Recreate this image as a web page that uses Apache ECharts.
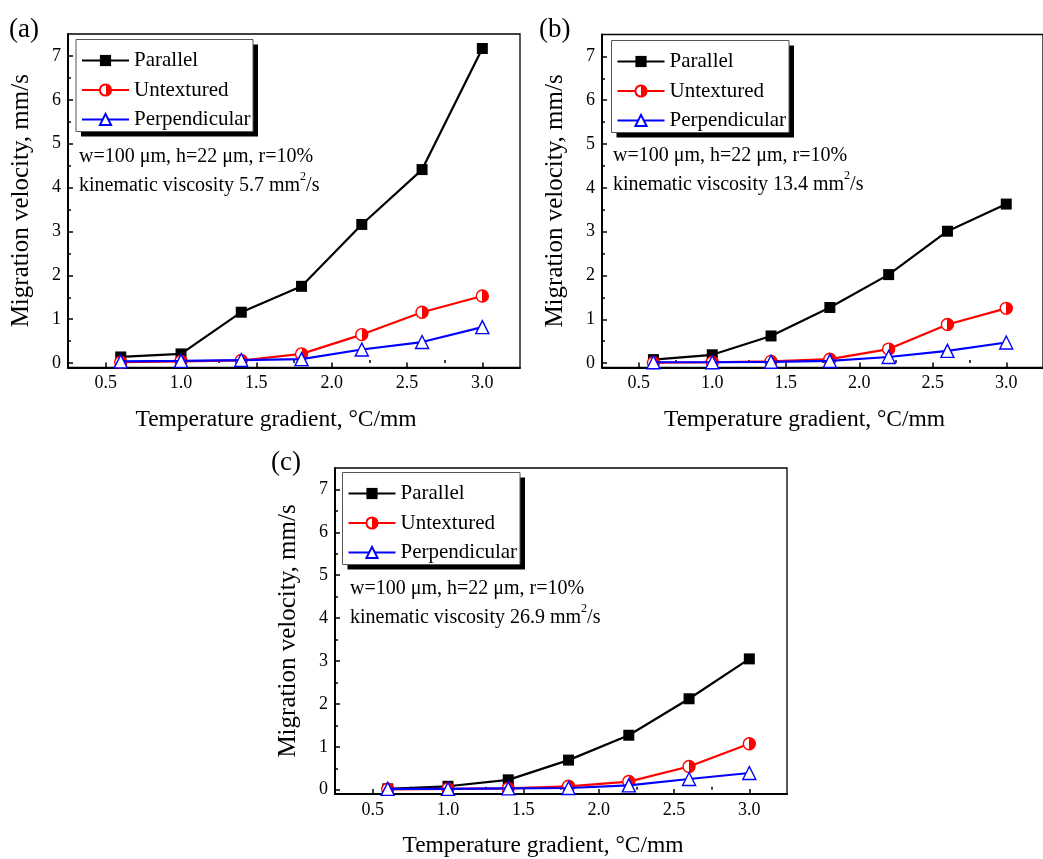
<!DOCTYPE html>
<html><head><meta charset="utf-8">
<script src="https://cdn.jsdelivr.net/npm/echarts@6/dist/echarts.min.js"></script>
<style>html,body{margin:0;padding:0;background:#fff}#c{width:1043px;height:859px}</style>
</head><body><div id="c"></div>
<script>
// ---- data ----
const xValues = [0.6, 1.0, 1.4, 1.8, 2.2, 2.6, 3.0];
const seriesNames = ['Parallel', 'Untextured', 'Perpendicular'];
const panelLabels = ['(a)', '(b)', '(c)'];
const viscosities = ['5.7', '13.4', '26.9'];
const paramText = 'w=100 μm, h=22 μm, r=10%';

const parallelA = [0.14, 0.21, 1.16, 1.75, 3.16, 4.41, 7.17];
const untexturedA = [0.02, 0.04, 0.06, 0.21, 0.65, 1.16, 1.53];
const perpendicularA = [0.04, 0.05, 0.07, 0.09, 0.31, 0.48, 0.82];

const parallelB = [0.08, 0.19, 0.62, 1.27, 2.02, 3.01, 3.63];
const untexturedB = [0.01, 0.02, 0.04, 0.09, 0.32, 0.88, 1.25];
const perpendicularB = [0.02, 0.02, 0.03, 0.05, 0.14, 0.28, 0.47];

const parallelC = [0.02, 0.08, 0.23, 0.69, 1.27, 2.12, 3.05];
const untexturedC = [0.01, 0.02, 0.03, 0.08, 0.19, 0.54, 1.07];
const perpendicularC = [0.02, 0.02, 0.03, 0.04, 0.10, 0.25, 0.39];

const xTicks = [0.5, 1.0, 1.5, 2.0, 2.5, 3.0];
const xMinorTicks = [0.75, 1.25, 1.75, 2.25, 2.75];
const yTicks = [0, 1, 2, 3, 4, 5, 6, 7];
const yMinorTicks = [0.5, 1.5, 2.5, 3.5, 4.5, 5.5, 6.5];

const xName = 'Temperature gradient, °C/mm';
const yName = 'Migration velocity, mm/s';

// ---- layout / style ----
const FONT = 'Liberation Serif';
const panels = [
  { grid: { left: 68, top: 34, width: 452, height: 333.5 }, box: { x: 76, y: 39.5, w: 177, h: 92 }, label: { left: 9, top: 16 }, note: { left: 79, top: 142 },
    data: [parallelA, untexturedA, perpendicularA] },
  { grid: { left: 602, top: 34.5, width: 452, height: 333 }, box: { x: 611.5, y: 40.5, w: 177.5, h: 92 }, label: { left: 539, top: 16 }, note: { left: 613, top: 141 },
    data: [parallelB, untexturedB, perpendicularB] },
  { grid: { left: 335, top: 468, width: 452, height: 333 }, box: { x: 342.5, y: 472.5, w: 177.5, h: 92 }, label: { left: 271, top: 449 }, note: { left: 350, top: 574 },
    data: [parallelC, untexturedC, perpendicularC] }
];

const halfFill = { type: 'linear', x: 0, y: 0, x2: 1, y2: 0,
  colorStops: [{ offset: 0, color: '#fff' }, { offset: 0.5, color: '#fff' }, { offset: 0.5, color: '#ff0000' }, { offset: 1, color: '#ff0000' }] };
const seriesStyles = [
  { symbol: 'rect', symbolSize: 11, itemStyle: { color: '#000' }, lineStyle: { color: '#000', width: 2.2 } },
  { symbol: 'circle', symbolSize: 12, itemStyle: { color: halfFill, borderColor: '#ff0000', borderWidth: 1.4 }, lineStyle: { color: '#ff0000', width: 2.2 } },
  { symbol: 'triangle', symbolSize: 13, itemStyle: { color: '#fff', borderColor: '#0000ff', borderWidth: 1.4 }, lineStyle: { color: '#0000ff', width: 2.2 } }
];

const grids = [], xAxes = [], yAxes = [], series = [], legends = [], titles = [], graphics = [];
panels.forEach((p, i) => {
  grids.push(Object.assign({ show: true, borderColor: '#000', borderWidth: 1.3, backgroundColor: 'transparent' }, p.grid));
  xAxes.push({
    type: 'value', gridIndex: i, min: 0.25, max: 3.25, position: 'bottom',
    name: xName, nameLocation: 'middle', nameGap: 40,
    nameTextStyle: { fontFamily: FONT, fontSize: 23.5, color: '#000', padding: [0, 36, 0, 0] },
    axisLine: { show: true, onZero: false, lineStyle: { color: '#000', width: 2 } },
    axisTick: { show: true, inside: true, length: 5, customValues: xTicks, lineStyle: { color: '#000', width: 1.5 } },
    axisLabel: { show: true, customValues: xTicks, margin: 7, fontFamily: FONT, fontSize: 18, color: '#000', formatter: v => v.toFixed(1) },
    splitLine: { show: false }
  });
  xAxes.push({
    type: 'value', gridIndex: i, min: 0.25, max: 3.25, position: 'bottom',
    axisLine: { show: false },
    axisTick: { show: true, inside: true, length: 3, customValues: xMinorTicks, lineStyle: { color: '#000', width: 1.5 } },
    axisLabel: { show: false }, splitLine: { show: false }
  });
  yAxes.push({
    type: 'value', gridIndex: i, min: -0.1, max: 7.5, position: 'left',
    name: yName, nameLocation: 'middle', nameGap: 34,
    nameTextStyle: { fontFamily: FONT, fontSize: 25, color: '#000' },
    axisLine: { show: true, onZero: false, lineStyle: { color: '#000', width: 2 } },
    axisTick: { show: true, inside: true, length: 5, customValues: yTicks, lineStyle: { color: '#000', width: 1.5 } },
    axisLabel: { show: true, customValues: yTicks, margin: 7, fontFamily: FONT, fontSize: 18, color: '#000', formatter: v => String(v) },
    splitLine: { show: false }
  });
  yAxes.push({
    type: 'value', gridIndex: i, min: -0.1, max: 7.5, position: 'left',
    axisLine: { show: false },
    axisTick: { show: true, inside: true, length: 3, customValues: yMinorTicks, lineStyle: { color: '#000', width: 1.5 } },
    axisLabel: { show: false }, splitLine: { show: false }
  });
  seriesNames.forEach((name, k) => {
    const st = seriesStyles[k];
    series.push({
      type: 'line', name: name, xAxisIndex: 2 * i, yAxisIndex: 2 * i,
      data: xValues.map((x, j) => [x, p.data[k][j]]),
      symbol: st.symbol, symbolSize: st.symbolSize, showSymbol: true,
      itemStyle: st.itemStyle, lineStyle: st.lineStyle,
      emphasis: { disabled: true }, animation: false, z: 3 + k
    });
  });
  // legend frame: solid black drop shadow + white box with thin border
  graphics.push({ type: 'rect', z: 10, silent: true,
    shape: { x: p.box.x + 5, y: p.box.y + 5, width: p.box.w, height: p.box.h },
    style: { fill: '#000' } });
  graphics.push({ type: 'rect', z: 11, silent: true,
    shape: { x: p.box.x, y: p.box.y, width: p.box.w, height: p.box.h },
    style: { fill: '#fff', stroke: '#555', lineWidth: 1 } });
  legends.push({
    orient: 'vertical', left: p.box.x, top: p.box.y, z: 20,
    data: seriesNames, itemWidth: 47, itemHeight: 14, itemGap: 8.5,
    padding: [10.5, 2, 2, 5], backgroundColor: 'transparent', borderWidth: 0,
    textStyle: { fontFamily: FONT, fontSize: 21, color: '#000' },
    selectedMode: false
  });
  titles.push({
    text: panelLabels[i], left: p.label.left, top: p.label.top, padding: 0,
    textStyle: { fontFamily: FONT, fontSize: 27, fontWeight: 'normal', color: '#000' }
  });
  titles.push({
    text: paramText + '\nkinematic viscosity ' + viscosities[i] + ' mm{s|2}/s',
    left: p.note.left, top: p.note.top, padding: 0,
    textStyle: { fontFamily: FONT, fontSize: 20, fontWeight: 'normal', color: '#000', lineHeight: 29,
      rich: { s: { fontFamily: FONT, fontSize: 12, lineHeight: 18, verticalAlign: 'top', color: '#000' } } }
  });
});

const chart = echarts.init(document.getElementById('c'), null, { renderer: 'canvas' });
chart.setOption({
  backgroundColor: '#fff', animation: false,
  title: titles, grid: grids, xAxis: xAxes, yAxis: yAxes, legend: legends, series: series,
  graphic: { elements: graphics },
  tooltip: { show: false }
});
</script></body></html>
